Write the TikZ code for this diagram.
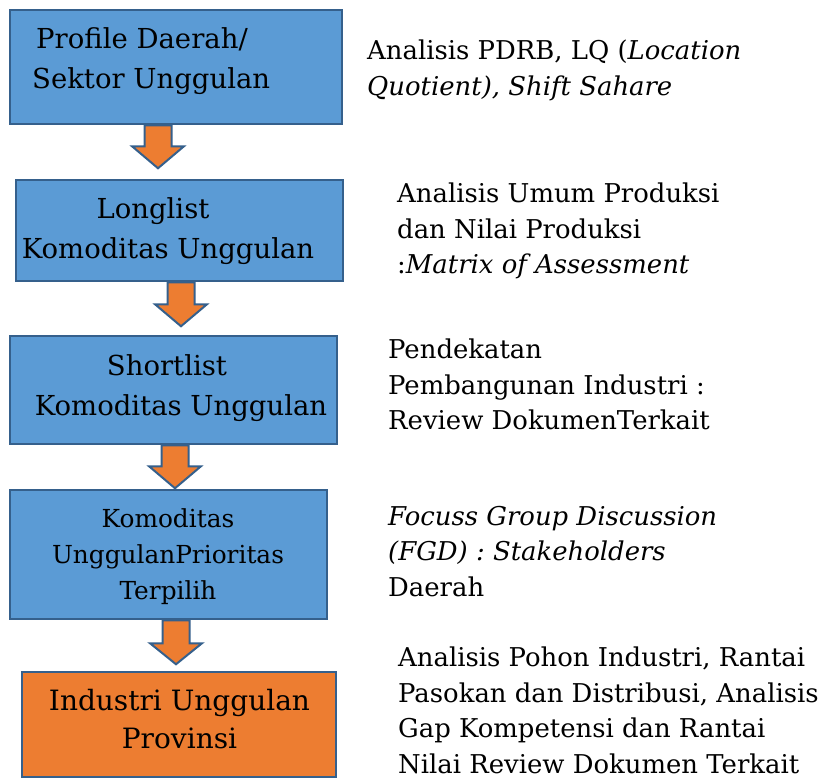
\documentclass[tikz,border=0pt]{standalone}
\usepackage{fontspec}
\setmainfont{DejaVu Serif}
\usetikzlibrary{calc}
\definecolor{isiBiru}{HTML}{5B9BD5}
\definecolor{garisBiru}{HTML}{35608C}
\definecolor{jingga}{HTML}{ED7D31}
\newcommand{\hurufKotak}{\fontsize{27.5}{40}\selectfont}
\newcommand{\hurufKet}{\fontsize{25.9}{35.5}\selectfont}

\begin{document}
\begin{tikzpicture}[x=1pt,y=-1pt,
    kotak/.style={draw=garisBiru, line width=2.5pt, fill=isiBiru, inner sep=0pt},
    panah/.style={draw=garisBiru, line width=2pt, fill=jingga, line join=miter},
    isi/.style={anchor=north, align=center, inner sep=0pt, font=\hurufKotak},
    ket/.style={anchor=north west, align=left, inner sep=0pt, font=\hurufKet}]
    \useasboundingbox (0,0) rectangle (825,779);
    % kotak alur
    \node[kotak, minimum width=332pt, minimum height=114pt] (k1) at (176,67) {};
    \node[kotak, minimum width=327pt, minimum height=101pt] (k2) at (179.5,230.5) {};
    \node[kotak, minimum width=327pt, minimum height=108pt] (k3) at (173.5,390) {};
    \node[kotak, minimum width=317pt, minimum height=129pt] (k4) at (168.5,554.5) {};
    \node[kotak, fill=jingga, minimum width=314pt, minimum height=105pt] (k5) at (179,724.5) {};
    % panah
    \coordinate (p1) at ($(k1.south)+(-18,0)$);
    \coordinate (p2) at ($(k2.south)+(1.5,0)$);
    \coordinate (p3) at ($(k3.south)+(1.5,0)$);
    \coordinate (p4) at ($(k4.south)+(7.5,0)$);
    \draw[panah] (p1) ++(-13.5,0) -- ++(0,21) -- ++(-12.5,0) -- ++(26,22) -- ++(26,-22) -- ++(-12.5,0) -- ++(0,-21) -- cycle;
    \draw[panah] (p2) ++(-13.5,0) -- ++(0,22) -- ++(-12.5,0) -- ++(26,22) -- ++(26,-22) -- ++(-12.5,0) -- ++(0,-22) -- cycle;
    \draw[panah] (p3) ++(-13.5,0) -- ++(0,21) -- ++(-12.5,0) -- ++(26,22) -- ++(26,-22) -- ++(-12.5,0) -- ++(0,-21) -- cycle;
    \draw[panah] (p4) ++(-13.5,0) -- ++(0,23) -- ++(-12.5,0) -- ++(26,21) -- ++(26,-21) -- ++(-12.5,0) -- ++(0,-23) -- cycle;
    % isi kotak
    \node[isi, anchor=north west, align=left] (t1) at (32,27) {\hspace*{4pt}Profile Daerah/\\Sektor Unggulan};
    \node[isi] (t2) at (168,197) {Longlist\hspace*{30pt}\\Komoditas Unggulan};
    \node[isi] (t3) at (181,354) {Shortlist\hspace*{28pt}\\Komoditas Unggulan};
    \node[isi, font=\fontsize{24.8}{36}\selectfont] (t4) at (168,508) {Komoditas\\UnggulanPrioritas\\Terpilih};
    \node[isi, font=\fontsize{28}{38}\selectfont] (t5) at (179.5,689) {Industri Unggulan\\Provinsi};
    % keterangan
    \node[ket] (a1) at (367,40) {Analisis PDRB, LQ (\textit{Location}\\\textit{Quotient), Shift Sahare}};
    \node[ket] (a2) at (397,183) {Analisis Umum Produksi\\dan Nilai Produksi\\:\textit{Matrix of Assessment}};
    \node[ket] (a3) at (388,339) {Pendekatan\\Pembangunan Industri :\\Review DokumenTerkait};
    \node[ket] (a4) at (388,506) {\textit{Focuss Group Discussion}\\\textit{(FGD) : Stakeholders}\\Daerah};
    \node[ket] (a5) at (398,647) {Analisis Pohon Industri, Rantai\\Pasokan dan Distribusi, Analisis\\Gap Kompetensi dan Rantai\\Nilai Review Dokumen Terkait};
  \end{tikzpicture}
\end{document}
